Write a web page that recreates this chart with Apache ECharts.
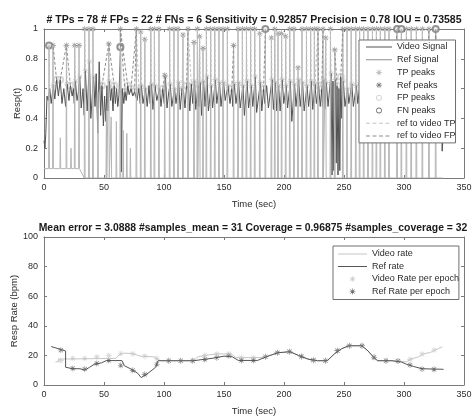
<!DOCTYPE html>
<html><head><meta charset="utf-8">
<script src="https://cdn.jsdelivr.net/npm/echarts@6/dist/echarts.min.js"></script>
<style>html,body{margin:0;padding:0;background:#fff}#c{width:473px;height:417px}</style>
</head><body><div id="c"></div>
<script>
// ---------------- data ----------------
const xTicks = [0, 50, 100, 150, 200, 250, 300, 350];
const respTicks = [0, 0.2, 0.4, 0.6, 0.8, 1];
const rateTicks = [0, 20, 40, 60, 80, 100];

const topTitle = '# TPs = 78 # FPs = 22 # FNs = 6 Sensitivity = 0.92857 Precision = 0.78 IOU = 0.73585';
const bottomTitle = 'Mean error = 3.0888 #samples_mean = 31 Coverage = 0.96875 #samples_coverage = 32';

// reference peaks (time s, amplitude)
const refPeakT = [4.2, 7.5, 18.7, 25.6, 29.2, 33.9, 37.5, 40.8, 54, 63.6,
  77, 80.6, 84, 89, 92, 95.8, 100.6, 104.7, 108.3, 111.7,
  115.8, 120, 125, 127.8, 129.7, 132.5, 135.3, 138.9, 142.3, 145.8,
  149.2, 152.8, 158, 161.7, 165.3, 168.7, 172.2, 175.6, 179.8, 184.5,
  189.5, 192.3, 195, 198, 201.4, 204.8, 208.3, 211.7, 215, 218.7,
  222.2, 225.3, 228.3, 232.5, 234.8, 238.7, 242.3, 249, 252.5, 256,
  259.8, 263, 266.4, 270, 273.7, 277, 280.3, 284, 287.5, 294.2,
  297.8, 302, 306, 310.3, 315.3, 320.8, 326.4];
const refPeakV = [0.89, 0.89, 0.89, 0.89, 0.89, 1, 1, 1, 0.9, 1,
  1, 0.98, 0.93, 1, 1, 1, 0.69, 1, 1, 1,
  0.96, 1, 0.91, 1, 0.95, 0.87, 1, 1, 1, 1,
  1, 1, 0.89, 1, 1, 1, 1, 1, 0.97, 1,
  0.94, 1, 0.97, 0.97, 0.95, 1, 1, 0.74, 1, 1,
  1, 1, 1, 1, 0.94, 1, 0.86, 1, 1, 1,
  1, 1, 1, 1, 1, 1, 1, 1, 1, 1,
  1, 1, 1, 1, 1, 1, 1];
// small bumps of the reference signal
const refMinorT = [13.6, 22.5, 45, 52, 56, 60.3, 66, 69, 72];
const refMinorV = [0.27, 0.2, 0.58, 0.45, 0.41, 0.38, 0.32, 0.3, 0.2];
const refBaseEarly = 0.063, refBaseLate = 0, refBaseSwitch = 33.5;

// missed reference peaks (FN)
const fnT = [4.2, 63.6, 184.5, 294.2, 297.8, 326.4];
const fnV = [0.89, 0.88, 1, 1, 1, 1];
// false positive video peaks (FP)
const fpT = [10.5, 13.5, 22, 48.3, 58.5, 63.8, 67.5, 69.8, 72.5, 75.5, 99,
  118.8, 156.5, 183, 228.8, 231.5, 244.2, 247.3, 291, 319, 325, 328];
const fpV = [0.66, 0.66, 0.62, 0.62, 0.62, 0.88, 0.58, 0.62, 0.6, 0.58, 0.6,
  0.62, 0.6, 0.6, 0.62, 0.6, 0.62, 0.68, 0.6, 0.6, 0.6, 0.6];

// video signal (time s, amplitude)
const videoSig = [[0,0.25],[0.8,0.2],[1.5,0.3],[2.5,0.55],[3.5,0.52],[4.8,0.6],[6,0.5],[7.8,0.62],[9,0.53],[10.5,0.66],
[12,0.55],[13.5,0.66],[15,0.5],[16.5,0.6],[18,0.48],[19.3,0.63],[20.8,0.52],[22,0.62],[23.5,0.55],[24.5,0.6],
[25.2,0.5],[26.2,0.65],[27.5,0.52],[28.6,0.57],[29.8,0.68],[31,0.47],[32.5,0.6],[33.5,0.42],[34.5,0.72],[36,0.45],
[37.9,0.78],[39,0.4],[41.3,0.68],[42.5,0.48],[43.5,0.7],[44.8,0.3],[46,0.78],[47.2,0.42],[48.3,0.62],[49.5,0.35],
[50.5,0.55],[51.5,0.38],[52.5,0.62],[53.2,0.45],[54.5,0.65],[55.5,0.52],[56.5,0.6],[57.5,0.45],[58.5,0.62],[59.5,0.5],
[60.5,0.6],[61.5,0.48],[62.5,0.56],[63.8,0.88],[64.5,0.04],[65.3,0.6],[66.5,0.5],[67.5,0.58],[68.5,0.52],[69.8,0.62],
[71,0.56],[72.5,0.6],[74,0.55],[75.5,0.58],[77.5,0.52],[79,0.6],[80.2,0.5],[81.2,0.62],[82.5,0.5],[84.6,0.6],
[86,0.48],[87.5,0.62],[88.5,0.5],[89.6,0.63],[90.8,0.46],[92.5,0.62],[94,0.52],[96.3,0.6],[97.5,0.48],[99,0.6],
[100.2,0.5],[101.2,0.68],[102.5,0.47],[104,0.58],[105.2,0.63],[106.5,0.48],[108.8,0.6],[110,0.5],[112.2,0.64],[113.5,0.46],
[115,0.6],[116.3,0.58],[117.5,0.47],[118.8,0.62],[120.5,0.6],[121.5,0.45],[122.8,0.63],[124,0.5],[125.5,0.65],[126.5,0.46],
[128.3,0.62],[129,0.48],[130.2,0.64],[131.3,0.42],[133,0.65],[134.2,0.48],[135.8,0.68],[137,0.45],[139.4,0.62],[140.5,0.47],
[142.8,0.66],[144,0.5],[146.3,0.64],[147.5,0.48],[149.7,0.64],[151,0.52],[153.3,0.62],[155,0.5],[156.5,0.6],[157.3,0.48],
[158.5,0.63],[160,0.5],[162.2,0.64],[163.5,0.47],[165.8,0.62],[167,0.42],[169.2,0.65],[170.5,0.47],[172.7,0.62],[174,0.48],
[176.1,0.68],[177.2,0.44],[180.3,0.64],[181.5,0.45],[183,0.6],[184,0.5],[185.5,0.62],[187,0.47],[190,0.66],[191.2,0.46],
[192.8,0.64],[194,0.45],[195.5,0.62],[196.8,0.45],[198.5,0.66],[199.8,0.5],[201.9,0.62],[203,0.47],[205.3,0.65],[206.5,0.38],
[208.8,0.63],[210,0.48],[212.2,0.66],[213.5,0.48],[215.5,0.64],[216.8,0.45],[219.2,0.62],[220.5,0.48],[222.7,0.65],[224,0.46],
[225.8,0.63],[227,0.5],[228.8,0.62],[230.2,0.48],[231.5,0.6],[232,0.48],[233,0.66],[234,0.46],[235.3,0.64],[236.7,0.48],
[239.2,0.7],[240,0.02],[240.8,0.65],[241.5,0.05],[242.8,0.66],[243.5,0.1],[244.2,0.62],[245,0.02],[245.8,0.6],[246.5,0.05],
[247.3,0.68],[248.2,0.4],[249.5,0.65],[250.8,0.48],[253,0.6],[254,0.5],[256.5,0.63],[257.8,0.48],[260.3,0.62],[261.5,0.5],
[263.5,0.64],[264.7,0.5],[266.9,0.6],[268,0.48],[270.5,0.62],[271.7,0.5],[274.2,0.63],[275.5,0.48],[277.5,0.62],[278.7,0.46],
[280.8,0.64],[282,0.5],[284.5,0.62],[285.8,0.47],[288,0.63],[289.2,0.5],[291,0.6],[292.5,0.5],[294.5,0.62],[296,0.5],
[298.5,0.6],[300,0.48],[302.5,0.64],[303.8,0.5],[306.5,0.62],[307.8,0.48],[310.8,0.63],[312.2,0.5],[315.8,0.62],[317,0.48],
[319,0.6],[320,0.5],[321.3,0.63],[322.8,0.5],[325,0.6],[326.5,0.52],[328,0.6],[329.5,0.5],[331,0.55],[331.8,0.18],[332.3,0.25]];

// respiration rates (bpm)
const refRateT = [6, 18, 18, 24, 30, 34, 38, 42, 48, 52, 65, 67, 72, 78, 81, 85, 90, 93, 95, 125,
  130, 140, 150, 157, 162, 178, 185, 195, 205, 212, 220, 228, 236, 242, 248, 254, 265, 270, 275, 278,
  290, 298, 302, 308, 315, 333];
const refRateV = [26, 23, 12, 11, 11, 10, 12, 14, 15, 16.5, 16.5, 13, 11, 8, 5, 7, 10, 12, 16.4, 16.4,
  17, 18, 19.5, 19, 16.6, 16.6, 19, 21.8, 22.5, 20, 17.5, 16.4, 16.4, 21, 24.5, 26.5, 26.5, 23, 18.5, 16.4,
  16.4, 15.5, 14, 12.5, 11, 10.6];
const videoRateT = [9.5, 12, 12, 60, 62, 66, 74, 80, 92, 95, 98, 125, 128, 134, 144, 156, 160, 180, 184, 195,
  205, 212, 220, 228, 236, 242, 248, 254, 265, 270, 275, 278, 290, 298, 302, 305, 312, 316, 322, 326, 332];
const videoRateV = [15.7, 15.7, 17.5, 18, 20, 21.5, 21.3, 19.5, 19, 17, 16.4, 16.4, 19, 20, 21, 21, 18.5, 18.5, 19, 21.8,
  22.5, 20, 17.5, 16.4, 16.4, 21, 24.5, 26.5, 26.5, 23, 18.5, 16.4, 16.4, 16, 15.5, 17.3, 19, 21, 22, 23.6, 25.8];
const epochT = [14, 24, 34, 44, 54, 64, 74, 84, 94, 104, 114, 124, 134, 144, 154, 164.5,
  174.5, 184.5, 194.5, 204.5, 214.5, 224.5, 234.5, 244.5, 254.5, 265, 275, 285, 295, 305, 315, 325];
const refEpochV = [23.6, 11.2, 10.8, 14.6, 16.6, 13.3, 9.9, 7.2, 14, 16.4, 16.4, 16.4, 17.3, 18.4, 19.8, 16.6,
  16.6, 19.1, 21.8, 22.5, 19.3, 16.8, 16.4, 23.2, 26.5, 26.5, 18.7, 16.4, 16.2, 13.5, 10.8, 10.6];
const videoEpochV = [16.5, 18, 18, 19, 20, 21.3, 21, 19.5, 18, 16.4, 16.4, 16.4, 20, 21, 21, 18.5,
  18.5, 19.1, 21.8, 22.5, 19.3, 16.8, 16.4, 23.2, 26.5, 26.5, 18.7, 16.4, 16.2, 17.3, 20.9, 23.6];

// ---------------- build series data ----------------
const zip = (a, b) => a.map((t, i) => [t, b[i]]);
const BREAK = ['-', '-'];

const spikes = zip(refPeakT, refPeakV).concat(zip(refMinorT, refMinorV)).sort((a, b) => a[0] - b[0]);
const baseAt = t => (t < refBaseSwitch ? refBaseEarly : refBaseLate);
const refSig = [[0, refBaseEarly]];
spikes.forEach(([t, v]) => { refSig.push([t - 0.35, baseAt(t)], [t, v], [t + 0.35, baseAt(t)]); });
refSig.push([332.5, refBaseLate]);

const isFn = t => fnT.some(f => Math.abs(f - t) < 0.05);
const isFp = t => fpT.some(f => Math.abs(f - t) < 0.05);
const vidMax = [];
for (let i = 1; i < videoSig.length - 1; i++) {
  if (videoSig[i][1] > videoSig[i - 1][1] && videoSig[i][1] >= videoSig[i + 1][1] && !isFp(videoSig[i][0])) vidMax.push(videoSig[i]);
}
const tpPts = [], tpLines = [];
zip(refPeakT, refPeakV).forEach(([t, v]) => {
  if (isFn(t)) return;
  let best = null, bd = 3;
  vidMax.forEach(p => { const d = Math.abs(p[0] - t); if (d < bd) { bd = d; best = p; } });
  if (best) { tpPts.push(best); tpLines.push([t, v], best, BREAK); }
});
const fpLines = [];
zip(fpT, fpV).forEach(([t, v]) => {
  let best = null, bd = 1e9;
  refPeakT.forEach((r, i) => { const d = Math.abs(r - t); if (d < bd) { bd = d; best = [r, refPeakV[i]]; } });
  fpLines.push([t, v], best, BREAK);
});

// ---------------- styling ----------------
const FONT = 'Liberation Sans, Arial, Helvetica, sans-serif';
const AX = '#7a7a7a', TXT = '#2b2b2b';
const STAR = 'path://M4.5 0L5.5 0L5.5 10L4.5 10ZM0 4.5L10 4.5L10 5.5L0 5.5ZM1.1 1.9L1.9 1.1L8.9 8.1L8.1 8.9ZM8.1 1.1L8.9 1.9L1.9 8.9L1.1 8.1Z';

// legend icons drawn in an (iconW x 8) box; corner points fix the box size
function iconBox(w) { return 'M0 0L0.01 0L0.01 0.01ZM' + w + ' 8L' + (w - 0.01) + ' 8L' + w + ' 7.99Z'; }
function lineIcon(w) { return 'path://' + iconBox(w) + 'M0 3.5H' + w + 'V4.5H0Z'; }
function dashIcon(w) {
  let p = 'path://' + iconBox(w);
  const step = w / 4;
  for (let k = 0; k < 4; k++) { const a = k * step, b = a + step * 0.6; p += 'M' + a + ' 3.5H' + b + 'V4.5H' + a + 'Z'; }
  return p;
}
function starIcon(w) {
  const c = w / 2, s = 3;
  const x0 = c - s, y0 = 4 - s;
  const f = (x, y) => (x0 + x * 0.6).toFixed(2) + ' ' + (y0 + y * 0.6).toFixed(2);
  return 'path://' + iconBox(w) +
    'M' + f(4.5, 0) + 'L' + f(5.5, 0) + 'L' + f(5.5, 10) + 'L' + f(4.5, 10) + 'Z' +
    'M' + f(0, 4.5) + 'L' + f(10, 4.5) + 'L' + f(10, 5.5) + 'L' + f(0, 5.5) + 'Z' +
    'M' + f(1.1, 1.9) + 'L' + f(1.9, 1.1) + 'L' + f(8.9, 8.1) + 'L' + f(8.1, 8.9) + 'Z' +
    'M' + f(8.1, 1.1) + 'L' + f(8.9, 1.9) + 'L' + f(1.9, 8.9) + 'L' + f(1.1, 8.1) + 'Z';
}
function ringIcon(w) {
  const c = w / 2, r = 2.9, ri = 2.1;
  return 'path://' + iconBox(w) +
    'M' + (c - r) + ' 4A' + r + ' ' + r + ' 0 1 0 ' + (c + r) + ' 4A' + r + ' ' + r + ' 0 1 0 ' + (c - r) + ' 4Z' +
    'M' + (c - ri) + ' 4A' + ri + ' ' + ri + ' 0 1 1 ' + (c + ri) + ' 4A' + ri + ' ' + ri + ' 0 1 1 ' + (c - ri) + ' 4Z';
}
const C = {
  video: '#525252', ref: '#b5b5b5', tp: '#bdbdbd', refPk: '#7a7a7a', fp: '#cfcfcf', fn: '#7a7a7a',
  tpLine: '#c4c4c4', fpLine: '#8c8c8c', vRate: '#c6c6c6', rRate: '#555555', vEp: '#cacaca', rEp: '#666666'
};
const li = (name, icon, color) => ({ name: name, icon: icon, itemStyle: { color: color, borderWidth: 0, opacity: 1 } });

function xAx(grid, top) {
  return {
    gridIndex: grid, type: 'value', min: 0, max: 350, interval: 50, position: top ? 'top' : 'bottom',
    axisLine: { show: true, onZero: false, lineStyle: { color: AX, width: 1 } },
    axisTick: { show: true, inside: true, length: 3, lineStyle: { color: AX } },
    axisLabel: { show: !top, fontSize: 9, color: TXT, fontFamily: FONT, margin: 5 },
    splitLine: { show: false },
    name: top ? '' : 'Time (sec)', nameLocation: 'middle', nameGap: 21, nameMoveOverlap: false,
    nameTextStyle: { fontSize: 9.5, color: TXT, fontFamily: FONT }
  };
}
function yAx(grid, right, max, interval, name, gap) {
  return {
    gridIndex: grid, type: 'value', min: 0, max: max, interval: interval, position: right ? 'right' : 'left',
    axisLine: { show: true, onZero: false, lineStyle: { color: AX, width: 1 } },
    axisTick: { show: true, inside: true, length: 3, lineStyle: { color: AX } },
    axisLabel: { show: !right, fontSize: 9, color: TXT, fontFamily: FONT, margin: 6 },
    splitLine: { show: false },
    name: right ? '' : name, nameLocation: 'middle', nameGap: gap, nameMoveOverlap: false,
    nameTextStyle: { fontSize: 9.5, color: TXT, fontFamily: FONT }
  };
}

const legendBase = {
  orient: 'vertical', backgroundColor: '#fff', borderColor: '#6e6e6e', borderWidth: 1,
  itemHeight: 8, textStyle: { fontSize: 9, color: TXT, fontFamily: FONT, lineHeight: 10 },
  selectedMode: false, symbolKeepAspect: true
};
const W1 = 26, W2 = 29;

const option = {
  animation: false,
  backgroundColor: '#fff',
  grid: [
    { left: 44, right: 9, top: 29, height: 149, outerBoundsMode: 'none', containLabel: false },
    { left: 44, right: 9, top: 237, height: 148, outerBoundsMode: 'none', containLabel: false }
  ],
  xAxis: [xAx(0, false), xAx(0, true), xAx(1, false), xAx(1, true)],
  yAxis: [yAx(0, false, 1, 0.2, 'Resp(t)', 22), yAx(0, true, 1, 0.2, '', 0),
          yAx(1, false, 100, 20, 'Resp Rate (bpm)', 25), yAx(1, true, 100, 20, '', 0)],
  graphic: [
    { type: 'text', x: 254, y: 20, style: { text: topTitle, align: 'center', verticalAlign: 'middle',
      font: 'bold 10.5px ' + FONT, fill: '#1a1a1a' } },
    { type: 'text', x: 253, y: 228, style: { text: bottomTitle, align: 'center', verticalAlign: 'middle',
      font: 'bold 10.4px ' + FONT, fill: '#1a1a1a' } }
  ],
  legend: [
    Object.assign({}, legendBase, {
      left: 359, top: 40, padding: [2, 0, 2, 7], itemWidth: W1, itemGap: 2.7, itemTextGap: 3,
      data: [li('Video Signal', lineIcon(W1), C.video), li('Ref Signal', lineIcon(W1), '#8f8f8f'),
        li('TP peaks', starIcon(W1), C.tp), li('Ref peaks', starIcon(W1), C.refPk),
        li('FP peaks', ringIcon(W1), C.fp), li('FN peaks', ringIcon(W1), C.fn),
        li('ref to video TP', dashIcon(W1), C.tpLine), li('ref to video FP', dashIcon(W1), C.fpLine)]
    }),
    Object.assign({}, legendBase, {
      left: 333, top: 246, padding: [3, 0, 3, 5], itemWidth: W2, itemGap: 2.5, itemTextGap: 2,
      data: [li('Video rate', lineIcon(W2), C.vRate), li('Ref rate', lineIcon(W2), C.rRate),
        li('Video Rate per epoch', starIcon(W2), C.vEp), li('Ref Rate per epoch', starIcon(W2), C.rEp)]
    })
  ],
  series: [
    { name: 'Video Signal', type: 'line', xAxisIndex: 0, yAxisIndex: 0, data: videoSig, symbol: 'none',
      lineStyle: { color: C.video, width: 1 }, itemStyle: { color: C.video } },
    { name: 'Ref Signal', type: 'line', xAxisIndex: 0, yAxisIndex: 0, data: refSig, symbol: 'none',
      lineStyle: { color: C.ref, width: 1 }, itemStyle: { color: C.ref } },
    { name: 'TP peaks', type: 'scatter', xAxisIndex: 0, yAxisIndex: 0, data: tpPts, symbol: STAR, symbolSize: 6,
      itemStyle: { color: C.tp } },
    { name: 'Ref peaks', type: 'scatter', xAxisIndex: 0, yAxisIndex: 0, data: zip(refPeakT, refPeakV), symbol: STAR, symbolSize: 6,
      itemStyle: { color: C.refPk } },
    { name: 'FP peaks', type: 'scatter', xAxisIndex: 0, yAxisIndex: 0, data: zip(fpT, fpV), symbol: 'emptyCircle', symbolSize: 6,
      itemStyle: { color: C.fp, borderWidth: 1 } },
    { name: 'FN peaks', type: 'scatter', xAxisIndex: 0, yAxisIndex: 0, data: zip(fnT, fnV), symbol: 'emptyCircle', symbolSize: 6,
      itemStyle: { color: C.fn, borderWidth: 1 } },
    { name: 'ref to video TP', type: 'line', xAxisIndex: 0, yAxisIndex: 0, data: tpLines, symbol: 'none', connectNulls: false,
      lineStyle: { color: C.tpLine, width: 1, type: [3, 2] }, itemStyle: { color: C.tpLine } },
    { name: 'ref to video FP', type: 'line', xAxisIndex: 0, yAxisIndex: 0, data: fpLines, symbol: 'none', connectNulls: false,
      lineStyle: { color: C.fpLine, width: 1, type: [3, 2] }, itemStyle: { color: C.fpLine } },

    { name: 'Video rate', type: 'line', xAxisIndex: 2, yAxisIndex: 2, data: zip(videoRateT, videoRateV), symbol: 'none',
      lineStyle: { color: C.vRate, width: 1 }, itemStyle: { color: C.vRate } },
    { name: 'Ref rate', type: 'line', xAxisIndex: 2, yAxisIndex: 2, data: zip(refRateT, refRateV), symbol: 'none',
      lineStyle: { color: C.rRate, width: 1 }, itemStyle: { color: C.rRate } },
    { name: 'Video Rate per epoch', type: 'scatter', xAxisIndex: 2, yAxisIndex: 2, data: zip(epochT, videoEpochV), symbol: STAR, symbolSize: 6,
      itemStyle: { color: C.vEp } },
    { name: 'Ref Rate per epoch', type: 'scatter', xAxisIndex: 2, yAxisIndex: 2, data: zip(epochT, refEpochV), symbol: STAR, symbolSize: 6,
      itemStyle: { color: C.rEp } }
  ]
};

const chart = echarts.init(document.getElementById('c'), null, { renderer: 'canvas' });
chart.setOption(option);
</script>
</body></html>
